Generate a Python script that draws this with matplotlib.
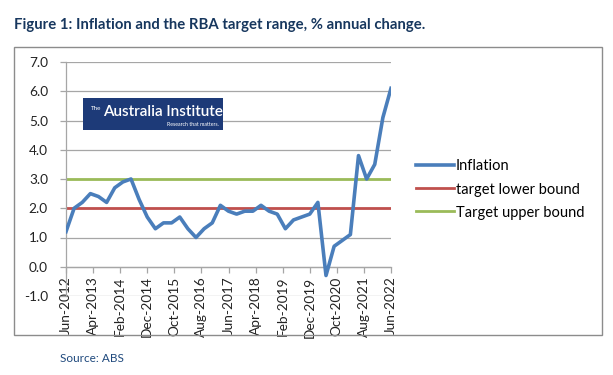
"""Inflation and the RBA target range chart -> out.png"""

import matplotlib

matplotlib.use("Agg")

import matplotlib.pyplot as plt
from matplotlib.patches import Rectangle
import pandas as pd

# quarterly CPI, % annual change, Jun-2012 .. Jun-2022
start = "2012Q2"
inflation = [
    1.2, 2.0, 2.2, 2.5, 2.4, 2.2, 2.7, 2.9, 3.0, 2.3, 1.7, 1.3, 1.5, 1.5,
    1.7, 1.3, 1.0, 1.3, 1.5, 2.1, 1.9, 1.8, 1.9, 1.9, 2.1, 1.9, 1.8, 1.3,
    1.6, 1.7, 1.8, 2.2, -0.3, 0.7, 0.9, 1.1, 3.8, 3.0, 3.5, 5.1, 6.1,
]
lower_bound = 2.0
upper_bound = 3.0
tick_labels = [
    "Jun-2012", "Apr-2013", "Feb-2014", "Dec-2014", "Oct-2015", "Aug-2016",
    "Jun-2017", "Apr-2018", "Feb-2019", "Dec-2019", "Oct-2020", "Aug-2021",
    "Jun-2022",
]

BLUE = "#4A7EBB"
RED = "#C0504D"
GREEN = "#9BBB59"
NAVY = "#17375E"
GRID = "#A6A6A6"

plt.rcParams["font.family"] = ["Lato", "DejaVu Sans"]


def main():
    periods = pd.period_range(start, periods=len(inflation), freq="Q")
    t0 = pd.Period("2012-06", freq="M")
    months = [(p.asfreq("M", how="end") - t0).n for p in periods]
    ticks = list(range(0, 121, 10))

    fig = plt.figure(figsize=(6.13, 3.75), dpi=100)

    # outer chart border
    fig.patches.append(Rectangle((14 / 613, 1 - 335 / 375), 588 / 613, 288 / 375,
                                 transform=fig.transFigure, fill=False,
                                 edgecolor="#8C8C8C", linewidth=1.0))

    ax = fig.add_axes([66 / 613, 1 - 296 / 375, 325 / 613, 234 / 375])
    # move x axis to y=0 first (this resets the ticks)
    ax.spines["bottom"].set_position(("data", 0))
    ax.spines["top"].set_visible(False)
    ax.spines["right"].set_visible(False)
    for s in ("left", "bottom"):
        ax.spines[s].set_color(GRID)
        ax.spines[s].set_linewidth(0.9)

    ax.set_xlim(0, 120)
    ax.set_ylim(-1, 7)
    ax.set_yticks(range(-1, 8))
    ax.set_yticklabels([f"{v:.1f}" for v in range(-1, 8)])
    ax.set_xticks(ticks)
    ax.set_xticklabels(tick_labels, rotation=90)
    ax.grid(axis="y", color=GRID, linewidth=0.9)
    ax.set_axisbelow(True)

    ax.tick_params(axis="both", colors=GRID, labelcolor="#222222", labelsize=9.8,
                   length=4, width=0.9)
    ax.tick_params(axis="y", pad=9)
    ax.tick_params(axis="x", pad=3)

    ax.axhline(lower_bound, color=RED, linewidth=2.0, label="target lower bound", zorder=2)
    ax.axhline(upper_bound, color=GREEN, linewidth=2.0, label="Target upper bound", zorder=2)
    ax.plot(months, inflation, color=BLUE, linewidth=2.6, label="Inflation", zorder=3,
            solid_joinstyle="round")

    handles, labels = ax.get_legend_handles_labels()
    order = [2, 0, 1]
    ax.legend([handles[i] for i in order], [labels[i] for i in order],
              loc="center left", bbox_to_anchor=(1.06, 0.455), frameon=False,
              fontsize=10.5, handlelength=2.6, handletextpad=0.1, labelspacing=0.62,
              borderaxespad=0)

    # logo box
    fig.patches.append(Rectangle((83 / 613, 1 - 130 / 375), 140 / 613, 32 / 375,
                                 transform=fig.transFigure, facecolor="#1D3A78",
                                 edgecolor="none", zorder=5))
    fig.text(91 / 613, 1 - 109 / 375, "The", color="white",
             fontsize=4.5, va="center", ha="left", zorder=6)
    fig.text(103 / 613, 1 - 112 / 375, "Australia Institute", color="white",
             fontsize=11, fontweight="semibold", va="center", ha="left", zorder=6)
    fig.text(219 / 613, 1 - 125 / 375, "Research that matters.", color="white",
             fontsize=3.8, va="center", ha="right", zorder=6)

    fig.text(14 / 613, 1 - 25 / 375,
             "Figure 1: Inflation and the RBA target range, % annual change.",
             fontsize=10.75, fontweight="bold", color=NAVY, va="center", ha="left")
    fig.text(60 / 613, 1 - 359 / 375, "Source: ABS", fontsize=8.5, color="#1F497D",
             va="center", ha="left")

    fig.savefig("out.png", dpi=100)


if __name__ == "__main__":
    main()
